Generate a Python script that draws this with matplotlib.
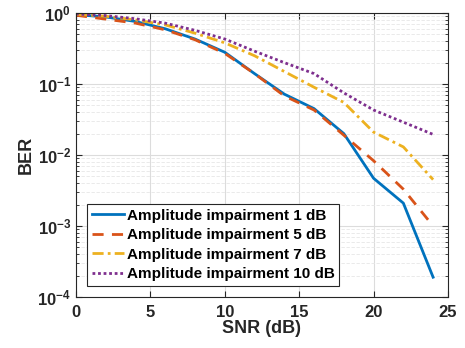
import matplotlib
matplotlib.use('Agg')
import matplotlib.pyplot as plt

# BER vs SNR for several amplitude impairments
snr = [0, 2, 4, 6, 8, 10, 12, 14, 16, 18, 20, 22, 24]
ber_1db = [0.95, 0.88, 0.76, 0.60, 0.43, 0.28, 0.14, 0.072, 0.045, 0.020, 0.0047, 0.0021, 0.00019]
ber_5db = [0.93, 0.82, 0.72, 0.58, 0.42, 0.27, 0.14, 0.068, 0.043, 0.019, 0.0083, 0.0033, 0.0010]
ber_7db = [0.96, 0.90, 0.80, 0.68, 0.52, 0.38, 0.25, 0.15, 0.090, 0.055, 0.021, 0.013, 0.0045]
ber_10db = [0.97, 0.92, 0.83, 0.72, 0.57, 0.43, 0.29, 0.20, 0.14, 0.075, 0.043, 0.029, 0.0195]
labels = ['Amplitude impairment 1 dB', 'Amplitude impairment 5 dB',
          'Amplitude impairment 7 dB', 'Amplitude impairment 10 dB']

plt.rcParams['font.family'] = ['Liberation Sans', 'DejaVu Sans']
plt.rcParams['font.weight'] = 'bold'
plt.rcParams['mathtext.fontset'] = 'custom'
plt.rcParams['mathtext.rm'] = 'Liberation Sans:bold'
plt.rcParams['mathtext.bf'] = 'Liberation Sans:bold'
plt.rcParams['mathtext.default'] = 'bf'

fig = plt.figure(figsize=(4.65, 3.48), dpi=100)
ax = fig.add_axes([0.1634, 0.1466, 0.80, 0.816])

ax.plot(snr, ber_1db, color='#0072BD', lw=2, ls='-', label=labels[0])
ax.plot(snr, ber_5db, color='#D95319', lw=2, ls=(0, (4, 3)), label=labels[1])
ax.plot(snr, ber_7db, color='#EDB120', lw=2, ls=(0, (4, 1.5, 1, 1.5)), label=labels[2])
ax.plot(snr, ber_10db, color='#7E2F8E', lw=2, ls=(0, (1, 1)), label=labels[3])

ax.set_yscale('log')
ax.set_xlim(0, 25)
ax.set_ylim(1e-4, 1)
ax.set_xticks([0, 5, 10, 15, 20, 25])
ax.set_yticks([1e-4, 1e-3, 1e-2, 1e-1, 1])

ax.grid(True, which='major', color='#dcdcdc', lw=0.8)
ax.grid(True, which='minor', axis='y', color='#e6e6e6', lw=0.6, ls=(0, (4, 2)))
ax.set_axisbelow(True)

ax.tick_params(which='both', direction='in', top=True, right=True,
               labelsize=12, colors='#262626')
ax.tick_params(which='major', length=4)
ax.tick_params(axis='x', which='major', pad=6)
ax.tick_params(which='minor', length=2)
ax.tick_params(axis='x', which='minor', bottom=False, top=False)
for s in ax.spines.values():
    s.set_color('#262626')
    s.set_linewidth(0.8)

ax.set_xlabel('SNR (dB)', fontsize=13, fontweight='bold', color='#262626', labelpad=0)
ax.set_ylabel('BER', fontsize=13, fontweight='bold', color='#262626', labelpad=2)

leg = ax.legend(loc='lower left', bbox_to_anchor=(0.03, 0.04), fontsize=11,
                fancybox=False, edgecolor='#262626', framealpha=1,
                handlelength=2.1, handletextpad=0.2, labelspacing=0.36,
                borderpad=0.3, borderaxespad=0)
leg.get_frame().set_linewidth(0.8)

plt.savefig('out.png', dpi=100)
